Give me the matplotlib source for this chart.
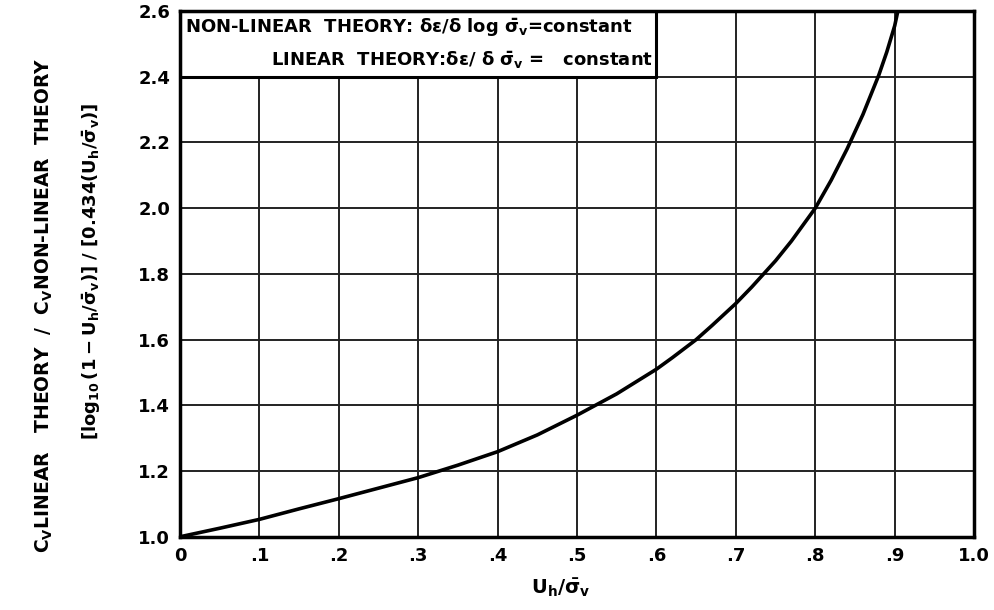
import matplotlib.pyplot as plt
import numpy as np

# curve: stress ratio vs coefficient ratio
ratio_x = [0.0, 0.05, 0.1, 0.15, 0.2, 0.25, 0.3, 0.35, 0.4, 0.45, 0.5, 0.55,
           0.6, 0.62, 0.65, 0.67, 0.7, 0.72, 0.75, 0.77, 0.8, 0.82, 0.84,
           0.86, 0.88, 0.89, 0.9, 0.904]
coef_y = [1.0, 1.026, 1.053, 1.085, 1.116, 1.148, 1.18, 1.218, 1.259, 1.31,
          1.37, 1.435, 1.51, 1.545, 1.60, 1.643, 1.71, 1.76, 1.84, 1.90,
          2.0, 2.085, 2.18, 2.285, 2.405, 2.475, 2.555, 2.6]

x_ticks = [0.0, 0.1, 0.2, 0.3, 0.4, 0.5, 0.6, 0.7, 0.8, 0.9, 1.0]
x_labels = ['0', '.1', '.2', '.3', '.4', '.5', '.6', '.7', '.8', '.9', '1.0']
y_ticks = [1.0, 1.2, 1.4, 1.6, 1.8, 2.0, 2.2, 2.4, 2.6]
y_labels = ['1.0', '1.2', '1.4', '1.6', '1.8', '2.0', '2.2', '2.4', '2.6']

plt.rcParams['font.family'] = ['DejaVu Sans']
plt.rcParams['font.weight'] = 'bold'
plt.rcParams['mathtext.fontset'] = 'dejavusans'
plt.rcParams['mathtext.default'] = 'bf'

fig = plt.figure(figsize=(9.94, 6.10), dpi=100)
ax = fig.add_axes([0.181, 0.12, 0.799, 0.862])

ax.set_xlim(0, 1.0)
ax.set_ylim(1.0, 2.6)
ax.set_xticks(x_ticks)
ax.set_xticklabels(x_labels)
ax.set_yticks(y_ticks)
ax.set_yticklabels(y_labels)
ax.tick_params(length=0, labelsize=13, pad=7)
for lbl in ax.get_xticklabels() + ax.get_yticklabels():
    lbl.set_fontweight('bold')

ax.grid(True, color='#222222', linewidth=1.4)
ax.set_axisbelow(True)
for sp in ax.spines.values():
    sp.set_linewidth(2.5)

ax.plot(ratio_x, coef_y, color='black', linewidth=2.6, solid_capstyle='round', zorder=3)

# key box covering the top-left cells
ax.fill([0, 0.6, 0.6, 0], [2.4, 2.4, 2.6, 2.6], facecolor='white',
        edgecolor='black', linewidth=2.2, zorder=2)
ax.text(0.007, 2.55, r'NON-LINEAR  THEORY: $\delta\epsilon/\delta$ log $\bar{\sigma}_v$=constant',
        ha='left', va='center', fontsize=13, fontweight='bold', zorder=4)
ax.text(0.596, 2.45, r'LINEAR  THEORY:$\delta\epsilon/\ \delta\ \bar{\sigma}_v$ =   constant',
        ha='right', va='center', fontsize=13, fontweight='bold', zorder=4)

ax.set_xlabel(r'$U_h/\bar{\sigma}_v$', fontsize=14)
ax.xaxis.set_label_coords(0.48, -0.075)

fig.text(0.045, 0.50, r'$C_V$LINEAR   THEORY  $/$  $C_V$NON-LINEAR  THEORY',
         rotation=90, ha='center', va='center', fontsize=13.5, fontweight='bold')
fig.text(0.092, 0.555, r'$[\log_{10}(1-U_h/\bar{\sigma}_v)]\ /\ [0.434(U_h/\bar{\sigma}_v)]$',
         rotation=90, ha='center', va='center', fontsize=13, fontweight='bold')

fig.savefig('out.png', dpi=100)
